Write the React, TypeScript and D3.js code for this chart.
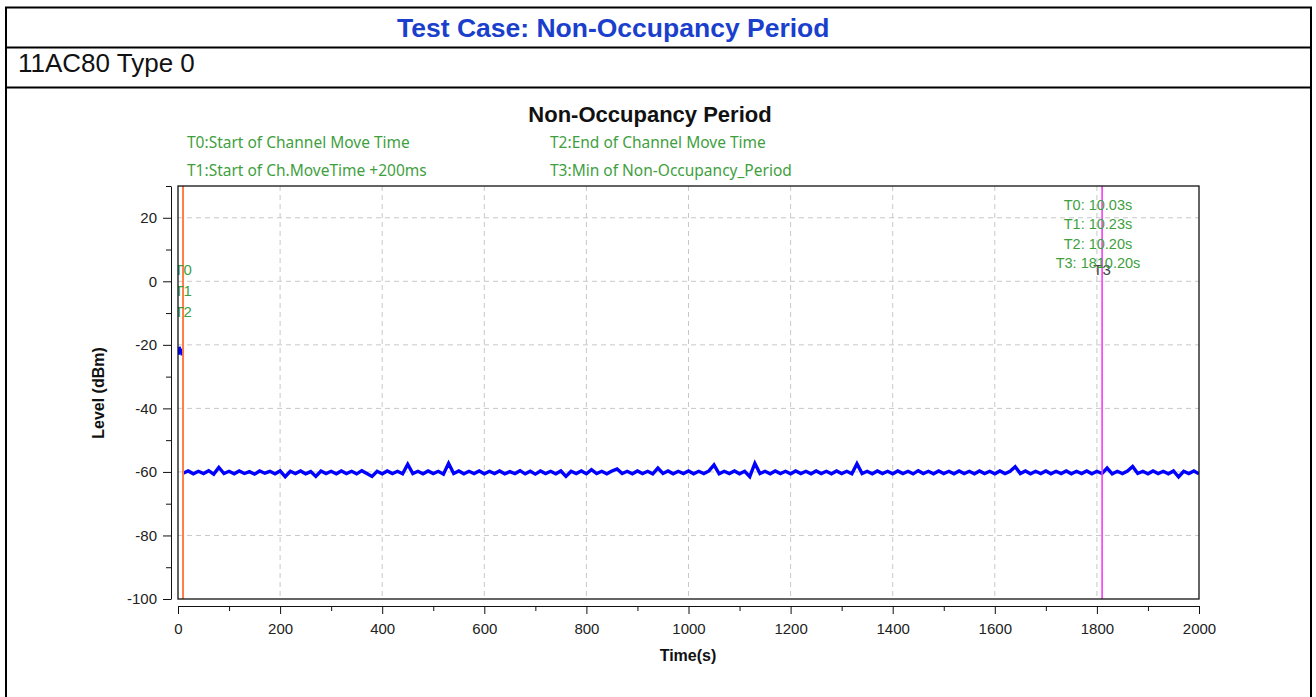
import { useEffect, useRef } from 'react';
import * as d3 from 'd3';

// occupied channel before the move (dBm)
const occupiedTimes = [0, 1.5, 3, 4.5, 6, 7.5, 9];
const occupiedLevels = [-21.4, -23.1, -20.6, -22.7, -21.2, -23.3, -21.9];

// idle channel after the move, one sample every 10 s from 10 s to 2000 s
const sampleStart = 10;
const sampleStep = 10;
const idleLevels = [
    -60.4, -59.7, -60.6, -59.8, -60.5, -59.6, -60.7, -58.6, -60.5, -59.8, -60.6, -59.7, -60.5, -59.9, -60.7, -59.7, -60.4, -59.8, -60.6, -59.7,
    -61.5, -59.8, -60.5, -59.7, -60.6, -59.9, -61.4, -59.7, -60.5, -59.8, -60.6, -59.7, -60.5, -59.8, -60.6, -59.6, -60.5, -61.4, -59.8, -60.6,
    -59.7, -60.5, -59.8, -60.6, -57.6, -60.5, -59.8, -60.6, -59.7, -60.5, -59.8, -60.7, -57.3, -60.5, -59.7, -60.6, -59.8, -60.5, -59.7, -60.6,
    -59.8, -60.5, -59.7, -60.6, -59.9, -60.5, -59.6, -60.6, -59.8, -60.7, -59.7, -60.5, -59.8, -60.6, -59.7, -61.4, -59.8, -60.5, -59.7, -60.6,
    -59.3, -60.5, -59.8, -60.6, -59.7, -59.1, -60.5, -59.8, -60.6, -59.7, -60.5, -59.8, -60.6, -58.8, -60.5, -59.7, -60.6, -59.8, -60.5, -59.7,
    -60.6, -59.8, -60.5, -59.7, -57.8, -60.6, -59.8, -60.5, -59.7, -60.6, -59.8, -61.5, -57.3, -60.5, -59.8, -60.6, -59.7, -60.5, -59.8, -60.6,
    -59.7, -60.5, -59.8, -60.6, -59.7, -60.5, -59.8, -60.6, -59.7, -60.5, -59.8, -60.6, -57.4, -60.5, -59.8, -60.6, -59.7, -60.5, -59.8, -60.6,
    -59.7, -60.5, -59.8, -60.6, -59.6, -60.5, -59.8, -60.6, -59.7, -60.5, -59.8, -60.6, -59.7, -60.5, -59.8, -60.6, -59.7, -60.5, -59.8, -60.6,
    -59.7, -60.5, -59.8, -58.4, -60.5, -59.7, -60.6, -59.8, -60.5, -59.7, -60.6, -59.8, -60.5, -59.7, -60.6, -59.8, -60.5, -59.7, -60.6, -59.8,
    -60.5, -58.8, -60.6, -59.8, -60.5, -59.7, -58.3, -60.5, -59.8, -60.6, -59.7, -60.5, -59.8, -60.6, -59.7, -61.6, -59.8, -60.5, -59.7, -60.6,
];

const markerNames = ['T0', 'T1', 'T2', 'T3'];
const markerTimes = [10.03, 10.23, 10.2, 1810.2];
const markerColors = ['#ff7b48', '#ff7b48', '#ff7b48', '#f53cf5'];
const markerLabelColors = ['#3f9f3f', '#3f9f3f', '#3f9f3f', '#444'];
const markerLabelRows = [0, 1, 2, 0];

const legendLeft = ['T0:Start of Channel Move Time', 'T1:Start of Ch.MoveTime +200ms'];
const legendRight = ['T2:End of Channel Move Time', 'T3:Min of Non-Occupancy_Period'];

const xMajor = [0, 200, 400, 600, 800, 1000, 1200, 1400, 1600, 1800, 2000];
const xMinor = [100, 300, 500, 700, 900, 1100, 1300, 1500, 1700, 1900];
const yMajor = [-100, -80, -60, -40, -20, 0, 20];
const yMinor = [-90, -70, -50, -30, -10, 10, 30];

const green = '#3f9f3f';

function App() {
    const ref = useRef(null);

    useEffect(() => {
        const svg = d3.select(ref.current);
        svg.selectAll('*').remove();

        const left = 178, right = 1199, top = 186, bottom = 599;
        const x = d3.scaleLinear().domain([0, 2000]).range([left, right]);
        const y = d3.scaleLinear().domain([-100, 30]).range([bottom, top]);

        // report table
        svg.append('rect')
            .attr('x', 6).attr('y', 7.5).attr('width', 1305).attr('height', 720)
            .attr('fill', 'none').attr('stroke', '#000').attr('stroke-width', 2);
        [47.5, 87.5].forEach(ly => {
            svg.append('line').attr('x1', 6).attr('x2', 1311).attr('y1', ly).attr('y2', ly)
                .attr('stroke', '#000').attr('stroke-width', 2);
        });
        svg.append('text')
            .attr('x', 397).attr('y', 37)
            .attr('font-family', 'Liberation Sans, Arial, sans-serif')
            .attr('font-size', 26.5).attr('font-weight', 'bold').attr('fill', '#1a3fcc')
            .text('Test Case: Non-Occupancy Period');
        svg.append('text')
            .attr('x', 18).attr('y', 72)
            .attr('font-family', 'Liberation Sans, Arial, sans-serif')
            .attr('font-size', 26).attr('fill', '#111')
            .text('11AC80 Type 0');

        // chart title and legend
        svg.append('text')
            .attr('x', 650).attr('y', 122).attr('text-anchor', 'middle')
            .attr('font-family', 'Liberation Sans, Arial, sans-serif')
            .attr('font-size', 22).attr('font-weight', 'bold').attr('fill', '#111')
            .text('Non-Occupancy Period');
        legendLeft.forEach((t, i) => {
            svg.append('text').attr('x', 187).attr('y', 148 + i * 28)
                .attr('font-family', 'Noto Sans, sans-serif').attr('font-size', 15.5)
                .attr('fill', green).text(t);
        });
        legendRight.forEach((t, i) => {
            svg.append('text').attr('x', 550).attr('y', 148 + i * 28)
                .attr('font-family', 'Noto Sans, sans-serif').attr('font-size', 15.5)
                .attr('fill', green).text(t);
        });

        svg.append('defs').append('clipPath').attr('id', 'plot-clip')
            .append('rect').attr('x', left).attr('y', top)
            .attr('width', right - left).attr('height', bottom - top);

        // grid
        const grid = svg.append('g')
            .attr('stroke', '#c8c8c8').attr('stroke-dasharray', '5,4').attr('stroke-width', 1);
        xMajor.slice(1, -1).forEach(v => {
            grid.append('line').attr('x1', x(v)).attr('x2', x(v)).attr('y1', top).attr('y2', bottom);
        });
        yMajor.slice(1).forEach(v => {
            grid.append('line').attr('x1', left).attr('x2', right).attr('y1', y(v)).attr('y2', y(v));
        });

        // axes
        const tickFont = (g) => g.selectAll('text')
            .attr('font-family', 'Liberation Sans, Arial, sans-serif')
            .attr('font-size', 15).attr('fill', '#222');
        const plain = (d) => String(d);
        svg.append('g').attr('transform', 'translate(171,0)')
            .call(d3.axisLeft(y).tickValues(yMajor).tickFormat(plain).tickSize(8).tickSizeOuter(0).tickPadding(6))
            .call(tickFont);
        svg.append('g').attr('transform', 'translate(171,0)')
            .call(d3.axisLeft(y).tickValues(yMinor).tickSize(5).tickSizeOuter(0).tickFormat(() => ''))
            .select('.domain').remove();
        svg.append('g').attr('transform', 'translate(0,606)')
            .call(d3.axisBottom(x).tickValues(xMajor).tickFormat(plain).tickSize(8).tickSizeOuter(0).tickPadding(9))
            .call(tickFont);
        svg.append('g').attr('transform', 'translate(0,606)')
            .call(d3.axisBottom(x).tickValues(xMinor).tickSize(5).tickSizeOuter(0).tickFormat(() => ''))
            .select('.domain').remove();
        svg.selectAll('.domain, .tick line').attr('stroke', '#111');

        svg.append('text')
            .attr('transform', 'translate(104,393) rotate(-90)').attr('text-anchor', 'middle')
            .attr('font-family', 'Liberation Sans, Arial, sans-serif')
            .attr('font-size', 16).attr('font-weight', 'bold').attr('fill', '#111')
            .text('Level (dBm)');
        svg.append('text')
            .attr('x', 688).attr('y', 661).attr('text-anchor', 'middle')
            .attr('font-family', 'Liberation Sans, Arial, sans-serif')
            .attr('font-size', 16).attr('font-weight', 'bold').attr('fill', '#111')
            .text('Time(s)');

        // trace: occupied burst, then the idle channel (the drop sits under the T0 marker)
        const plot = svg.append('g').attr('clip-path', 'url(#plot-clip)');
        const line = d3.line().x(d => x(d[0])).y(d => y(d[1]));
        const occupied = occupiedTimes.map((t, i) => [t, occupiedLevels[i]]);
        const idle = idleLevels.map((v, i) => [sampleStart + i * sampleStep, v]);
        plot.append('path').datum(occupied)
            .attr('d', line).attr('fill', 'none')
            .attr('stroke', '#0000ff').attr('stroke-width', 2.6);
        plot.append('path').datum(idle)
            .attr('d', line).attr('fill', 'none')
            .attr('stroke', '#0000ff').attr('stroke-width', 3.4).attr('stroke-linejoin', 'miter');

        // markers
        markerTimes.forEach((t, i) => {
            plot.append('line').attr('x1', x(t)).attr('x2', x(t)).attr('y1', top).attr('y2', bottom)
                .attr('stroke', markerColors[i]).attr('stroke-width', 1.6);
        });
        markerTimes.forEach((t, i) => {
            plot.append('text').attr('x', x(t)).attr('y', 275 + markerLabelRows[i] * 21)
                .attr('text-anchor', 'middle')
                .attr('font-family', 'Liberation Sans, Arial, sans-serif').attr('font-size', 15)
                .attr('fill', markerLabelColors[i]).text(markerNames[i]);
        });
        markerTimes.forEach((t, i) => {
            svg.append('text').attr('x', 1098).attr('y', 210 + i * 19.3)
                .attr('text-anchor', 'middle')
                .attr('font-family', 'Liberation Sans, Arial, sans-serif').attr('font-size', 14.5)
                .attr('fill', green).text(`${markerNames[i]}: ${t.toFixed(2)}s`);
        });

        svg.append('rect')
            .attr('x', left).attr('y', top).attr('width', right - left).attr('height', bottom - top)
            .attr('fill', 'none').attr('stroke', '#111').attr('stroke-width', 1.3);
    });

    return (
        <svg ref={ref} width={1316} height={697}
            style={{ position: 'absolute', left: 0, top: 0, background: '#fff' }} />
    );
}

export default App;
